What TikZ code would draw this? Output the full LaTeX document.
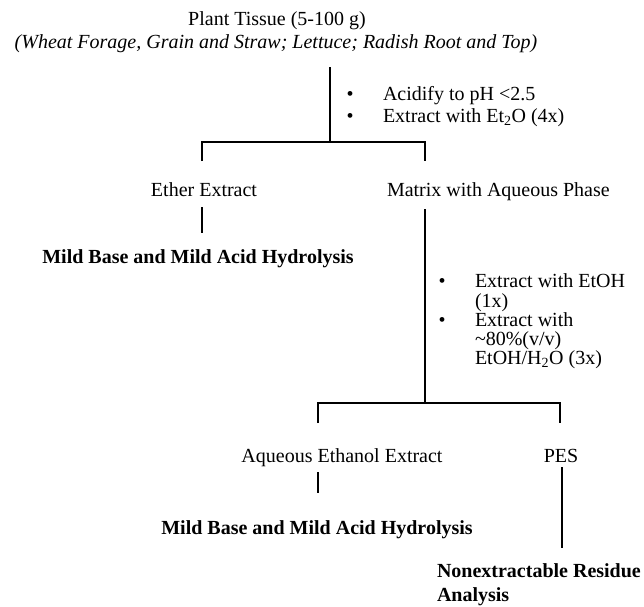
\documentclass[tikz,border=0pt]{standalone}
\usepackage{fontspec}
\setmainfont{Liberation Serif}
\begin{document}
\begin{tikzpicture}[x=1pt,y=-1pt,
  txt/.style={inner sep=0pt, outer sep=0pt, font=\fontsize{20}{24}\selectfont},
  bold/.style={txt, font=\fontsize{20}{24}\selectfont\bfseries},
  conn/.style={line width=1.1pt, black}]
\useasboundingbox (0,0) rectangle (644,606);
% texts
\node[txt, anchor=base] (plant) at (277,25) {Plant Tissue (5-100 g)};
\node[txt, anchor=base] (crops) at (276,48) {\itshape (Wheat Forage, Grain and Straw; Lettuce; Radish Root and Top)};
\node[txt, anchor=base] (ba) at (350,100) {\textbullet};
\node[txt, anchor=base west] (sa) at (383,100) {Acidify to pH <2.5};
\node[txt, anchor=base] (bb) at (350,122) {\textbullet};
\node[txt, anchor=base west] (sb) at (383,122) {Extract with Et\textsubscript{2}O (4x)};
\node[txt, anchor=base] (ether) at (204,196) {Ether Extract};
\node[txt, anchor=base west] (matrix) at (387,196) {Matrix with Aqueous Phase};
\node[bold, anchor=base] (mild1) at (198,263) {Mild Base and Mild Acid Hydrolysis};
\node[txt, anchor=base] (bc) at (442,287) {\textbullet};
\node[txt, anchor=base west] (sc1) at (475,287) {Extract with EtOH};
\node[txt, anchor=base west] (sc2) at (475,307) {(1x)};
\node[txt, anchor=base] (bd) at (442,326) {\textbullet};
\node[txt, anchor=base west] (sd1) at (475,326) {Extract with};
\node[txt, anchor=base west] (sd2) at (475,345) {\textasciitilde 80\%(v/v)};
\node[txt, anchor=base west] (sd3) at (475,364) {EtOH/H\textsubscript{2}O (3x)};
\node[txt, anchor=base] (aq) at (342,462) {Aqueous Ethanol Extract};
\node[txt, anchor=base] (pes) at (561,462) {PES};
\node[bold, anchor=base] (mild2) at (317,534) {Mild Base and Mild Acid Hydrolysis};
\node[bold, anchor=base west] (ner1) at (437,577) {Nonextractable Residue};
\node[bold, anchor=base west] (ner2) at (437,601) {Analysis};
% junction points
\coordinate (t1) at (330,67);
\coordinate (j1) at (330,142);
\coordinate (l1) at (202,142);
\coordinate (r1) at (425,142);
\coordinate (l1e) at (202,161);
\coordinate (r1e) at (425,161);
\coordinate (e1) at (202,207);
\coordinate (e2) at (202,233);
\coordinate (m1) at (425,209);
\coordinate (j2) at (425,403);
\coordinate (l2) at (318,403);
\coordinate (r2) at (560,403);
\coordinate (l2e) at (318,423);
\coordinate (r2e) at (560,423);
\coordinate (a1) at (318,472);
\coordinate (a2) at (318,493);
\coordinate (p1) at (562,467);
\coordinate (p2) at (562,548);
% connectors
\draw[conn] (t1) -- (j1);
\draw[conn] (l1e) -- (l1) -- (r1) -- (r1e);
\draw[conn] (e1) -- (e2);
\draw[conn] (m1) -- (j2);
\draw[conn] (l2e) -- (l2) -- (r2) -- (r2e);
\draw[conn] (a1) -- (a2);
\draw[conn] (p1) -- (p2);
\end{tikzpicture}
\end{document}
